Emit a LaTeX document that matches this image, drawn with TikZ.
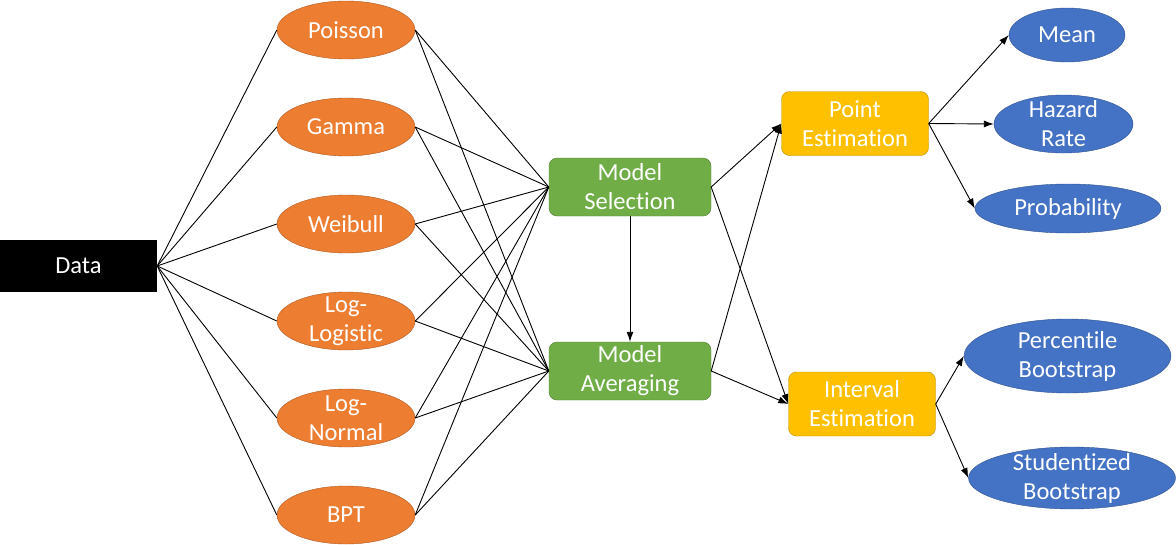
\documentclass[tikz,border=0pt]{standalone}
\usepackage{fontspec}
\setmainfont{Carlito}[Ligatures=NoCommon]
\usetikzlibrary{positioning,arrows.meta,shapes.geometric}
\definecolor{distorange}{HTML}{ED7D31}
\definecolor{distedge}{HTML}{AE5A21}
\definecolor{modelgreen}{HTML}{70AD47}
\definecolor{modeledge}{HTML}{507E32}
\definecolor{estgold}{HTML}{FFC000}
\definecolor{estedge}{HTML}{BC8C00}
\definecolor{outblue}{HTML}{4472C4}
\definecolor{outedge}{HTML}{2F528F}
\tikzset{
  dist/.style={ellipse,draw=distedge,fill=distorange,minimum width=138pt,minimum height=58pt,inner sep=0pt},
  modelbox/.style={rectangle,rounded corners=8pt,draw=modeledge,fill=modelgreen,minimum width=162pt,minimum height=58pt,inner sep=0pt,align=center},
  estbox/.style={rectangle,rounded corners=8pt,draw=estedge,fill=estgold,minimum width=147pt,minimum height=64pt,inner sep=0pt,align=center},
  outcome/.style={ellipse,draw=outedge,fill=outblue,inner sep=0pt},
  link/.style={draw=black,line width=0.9pt},
  arr/.style={link,-{Latex[length=10pt,width=7pt]}},
  every label/.style={align=center}
}
\begin{document}
\begin{tikzpicture}[x=1pt,y=-1pt,font=\fontsize{24.5}{29}\selectfont,text=white]
  \useasboundingbox (0,0) rectangle (1176,544);
  % input
  \node[fill=black,minimum width=157pt,minimum height=52pt,inner sep=0pt] (data) at (78.5,266) {Data};
  % candidate distributions
  \node[dist,label=center:Poisson] (poisson) at (346,30) {};
  \node[dist,label=center:Gamma] (gamma) at (346,127) {};
  \node[dist,label=center:Weibull] (weibull) at (346,224) {};
  \node[dist,label={center:Log-\\Logistic}] (loglog) at (346,321) {};
  \node[dist,label={center:Log-\\Normal}] (lognorm) at (346,418) {};
  \node[dist,label=center:BPT] (bpt) at (346,515) {};
  % model
  \node[modelbox] (sel) at (630,187) {Model\\Selection};
  \node[modelbox] (avg) at (630,371) {Model\\Averaging};
  % estimation
  \node[estbox] (pe) at (855,123.5) {Point\\Estimation};
  \node[estbox] (ie) at (862,404) {Interval\\Estimation};
  % outputs
  \node[outcome,minimum width=116pt,minimum height=54pt,label=center:Mean] (mean) at (1067,35) {};
  \node[outcome,minimum width=139pt,minimum height=58pt,label={center:Hazard\\Rate}] (hazard) at (1063.5,124) {};
  \node[outcome,minimum width=186pt,minimum height=49pt,label=center:Probability] (prob) at (1068,208.5) {};
  \node[outcome,minimum width=207pt,minimum height=74pt,label={center:Percentile\\Bootstrap}] (perc) at (1067.5,356) {};
  \node[outcome,minimum width=207pt,minimum height=62pt,label={center:Studentized\\Bootstrap}] (stud) at (1072,478) {};

  \foreach \d in {poisson,gamma,weibull,loglog,lognorm,bpt} {
    \draw[link] (data.east) -- (\d.west);
    \draw[link] (\d.east) -- (sel.west);
    \draw[link] (\d.east) -- (avg.west);
  }
  \draw[arr] (sel.south) -- (avg.north);
  \draw[arr] (sel.east) -- (pe.west);
  \draw[arr] (sel.east) -- (ie.west);
  \draw[arr] (avg.east) -- (pe.west);
  \draw[arr] (avg.east) -- (ie.west);
  \draw[arr] (pe.east) -- (mean.west);
  \draw[arr] (pe.east) -- (hazard.west);
  \draw[arr] (pe.east) -- (prob.west);
  \draw[arr] (ie.east) -- (perc.west);
  \draw[arr] (ie.east) -- (stud.west);
\end{tikzpicture}
\end{document}
